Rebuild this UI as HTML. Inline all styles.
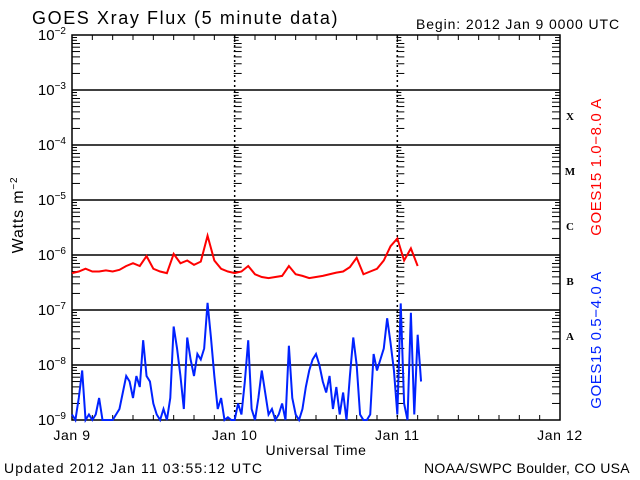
<!DOCTYPE html>
<html><head><meta charset="utf-8"><style>
body{margin:0;background:#fff}
svg{display:block;font-family:"Liberation Sans",sans-serif}
</style></head><body>
<svg id="c" width="640" height="480" xmlns="http://www.w3.org/2000/svg">
<text x="32" y="24" font-size="18" letter-spacing="1.6">GOES Xray Flux (5 minute data)</text>
<text x="416" y="29" font-size="14" letter-spacing="0.9">Begin:  2012 Jan 9 0000 UTC</text>
<text x="4" y="473" font-size="14" letter-spacing="1.1">Updated 2012 Jan 11 03:55:12 UTC</text>
<text x="424" y="473" font-size="14" letter-spacing="0.3">NOAA/SWPC Boulder, CO USA</text>
<text x="316" y="455" font-size="14" letter-spacing="0.6" text-anchor="middle">Universal Time</text>
<text transform="translate(23,215) rotate(-90)" font-size="16" letter-spacing="0.8" text-anchor="middle">Watts m<tspan dy="-6" font-size="10">−2</tspan></text>
<text transform="translate(601,167) rotate(-90)" font-size="15" letter-spacing="0.6" fill="#f00" text-anchor="middle">GOES15 1.0−8.0 A</text>
<text transform="translate(601,340) rotate(-90)" font-size="15" letter-spacing="0.6" fill="#0022ff" text-anchor="middle">GOES15 0.5−4.0 A</text>
<g id="grid"></g><g id="series"></g>
</svg>
<script>
const dayLabels=["Jan 9","Jan 10","Jan 11","Jan 12"];
const decadeExps=[-2,-3,-4,-5,-6,-7,-8,-9];
const classLabels=["X","M","C","B","A"];
const classExps=[-4,-5,-6,-7,-8];
// red: hourly log10 flux, 1.0-8.0 A
const longFlux=[-6.33,-6.3,-6.25,-6.3,-6.3,-6.28,-6.3,-6.27,-6.2,-6.15,-6.2,-6.02,-6.25,-6.3,-6.33,-5.98,-6.15,-6.1,-6.18,-6.12,-5.65,-6.1,-6.25,-6.3,-6.33,-6.3,-6.2,-6.35,-6.4,-6.42,-6.4,-6.38,-6.2,-6.35,-6.38,-6.42,-6.4,-6.38,-6.35,-6.32,-6.3,-6.22,-6.05,-6.35,-6.3,-6.25,-6.1,-5.84,-5.7,-6.1,-5.88,-6.2];
// blue: half-hourly log10 flux, 0.5-4.0 A
const shortFlux=[-8.9,-9,-8.6,-8.1,-9,-8.9,-9,-8.9,-8.6,-9,-9,-9,-9,-8.9,-8.8,-8.5,-8.2,-8.3,-8.6,-8.2,-8.4,-7.55,-8.2,-8.3,-8.7,-8.9,-9,-8.8,-9,-8.6,-7.3,-7.7,-8.2,-8.8,-7.5,-7.9,-8.2,-7.8,-7.9,-7.7,-6.87,-7.5,-8.2,-8.8,-8.6,-9,-8.95,-9,-9,-8.7,-8.9,-8.3,-7.55,-8.8,-9,-8.6,-8.1,-8.5,-8.9,-8.8,-9,-8.9,-8.7,-9,-7.65,-8.6,-8.9,-9,-8.8,-8.4,-8.1,-7.9,-7.8,-8.0,-8.3,-8.5,-8.2,-8.8,-8.4,-8.9,-8.5,-9,-8.2,-7.5,-8.0,-8.9,-9,-9,-8.9,-7.8,-8.1,-7.9,-7.7,-7.15,-7.6,-8.1,-8.9,-6.88,-8.7,-9,-7.05,-8.9,-7.45,-8.3];
const L=72,R=560,T=35,B=420;
const X=h=>L+(R-L)*h/72;
const Y=e=>T+(B-T)*(-2-e)/7;
const NS="http://www.w3.org/2000/svg";
const grid=document.getElementById('grid'),ser=document.getElementById('series');
function mk(p,tag,a){const e=document.createElementNS(NS,tag);for(const k in a)e.setAttribute(k,a[k]);p.appendChild(e);return e;}
mk(grid,'rect',{x:L,y:T,width:R-L,height:B-T,fill:'none',stroke:'#000','stroke-width':1.5});
decadeExps.forEach(e=>{
 const y=Y(e);
 if(e>-9&&e<-2){const l=mk(grid,'line',{x1:L,x2:R,y1:y,y2:y,stroke:'#000','stroke-width':1.5});
 
 }
 const t=mk(grid,'text',{x:L-6,y:y+5,'font-size':15,'text-anchor':'end'});
 
 
 t.innerHTML='10<tspan dy="-6" font-size="10">'+e.toString().replace('-','−')+'</tspan>';
 if(e>-9){for(let m=2;m<=9;m++){const yy=Y(e-1+Math.log10(m));
  [[L,1],[X(24)-1,1],[X(48)-1,1],[R,-1]].forEach(([x0,d])=>{
   mk(grid,'line',{x1:x0,x2:x0+(m>=8?5:8)*d,y1:yy,y2:yy,stroke:'#000','stroke-width':1});});}}
});
for(let d=1;d<=2;d++){const l=mk(grid,'line',{x1:X(24*d),x2:X(24*d),y1:T,y2:B,stroke:'#000','stroke-width':1.5,'stroke-dasharray':'2,3'});
 
 }
for(let h=3;h<72;h+=3){const x=X(h);
 mk(grid,'line',{x1:x,x2:x,y1:T,y2:T+5,stroke:'#000'});
 mk(grid,'line',{x1:x,x2:x,y1:B,y2:B-5,stroke:'#000'});}
dayLabels.forEach((s,i)=>{const t=mk(grid,'text',{x:X(24*i),y:440,'font-size':14,'letter-spacing':0.6,'text-anchor':'middle'});
 
 
 t.textContent=s;});
classLabels.forEach((s,i)=>{const t=mk(grid,'text',{x:570,y:Y(classExps[i])-25,'font-size':11,'font-weight':'bold','font-family':'Liberation Serif,serif','text-anchor':'middle'});
 
 
 t.textContent=s;});
const rp=longFlux.map((v,i)=>X(i)+','+Y(v)).join(' ');
const r=mk(ser,'polyline',{points:rp,fill:'none',stroke:'#f00','stroke-width':2});


const bp=shortFlux.map((v,i)=>X(i*0.5)+','+Y(Math.max(v,-9))).join(' ');
const b=mk(ser,'polyline',{points:bp,fill:'none',stroke:'#0022ff','stroke-width':2});


</script>
</body></html>
